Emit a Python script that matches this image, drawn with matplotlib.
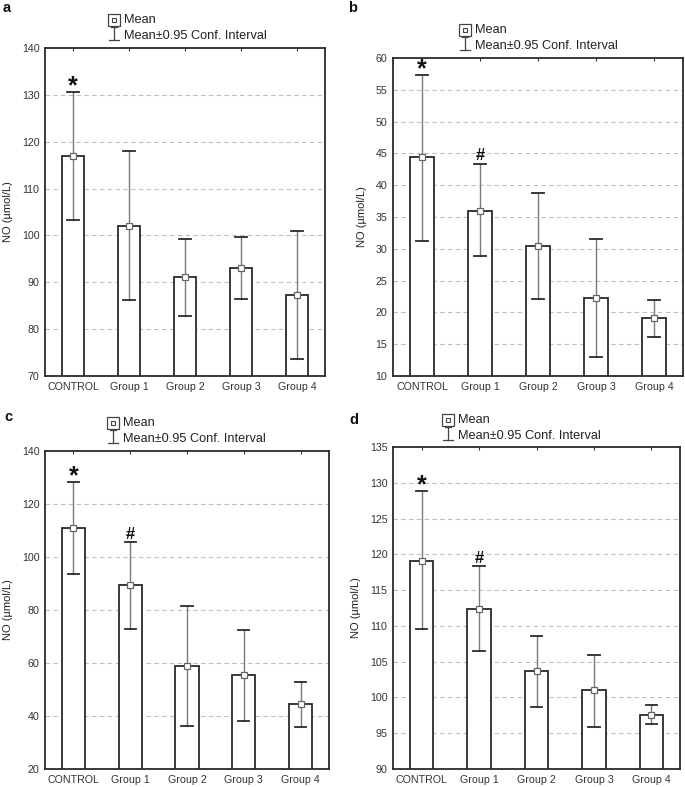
import matplotlib
matplotlib.use("Agg")
import matplotlib.pyplot as plt
from matplotlib.lines import Line2D

plt.rcParams['font.family'] = ['Liberation Sans', 'DejaVu Sans']

categories = ["CONTROL", "Group 1", "Group 2", "Group 3", "Group 4"]

mean_a = [117.0, 102.1, 91.1, 93.1, 87.2]
low_a = [103.3, 86.2, 82.8, 86.5, 73.6]
high_a = [130.7, 118.0, 99.2, 99.7, 100.9]

mean_b = [44.4, 36.0, 30.4, 22.3, 19.1]
low_b = [31.3, 28.8, 22.1, 13.0, 16.2]
high_b = [57.3, 43.4, 38.7, 31.5, 22.0]

mean_c = [110.8, 89.3, 58.9, 55.3, 44.5]
low_c = [93.5, 72.9, 36.2, 38.3, 35.8]
high_c = [128.3, 105.6, 81.4, 72.4, 52.7]

mean_d = [119.1, 112.3, 103.7, 101.0, 97.6]
low_d = [109.5, 106.5, 98.7, 95.9, 96.3]
high_d = [128.9, 118.3, 108.6, 105.9, 98.9]

marks_a = ["*", "", "", "", ""]
marks_b = ["*", "#", "", "", ""]
marks_c = ["*", "#", "", "", ""]
marks_d = ["*", "#", "", "", ""]

ylims = {"a": (70, 140, 10), "b": (10, 60, 5), "c": (20, 140, 20), "d": (90, 135, 5)}

W, H = 685, 787
fig = plt.figure(figsize=(W / 100, H / 100), dpi=100)

# axes pixel boxes: left, top, right, bottom
boxes = {
    "a": (45, 48, 325, 376),
    "b": (393, 58, 683, 376),
    "c": (45, 451, 329, 769),
    "d": (393, 447, 680, 769),
}
legend_x = {"a": 124, "b": 475, "c": 123, "d": 458}
panel_lbl = {"a": (3, 8), "b": (348, 8), "c": (4, 417), "d": (349, 420)}
data = {
    "a": (mean_a, low_a, high_a, marks_a),
    "b": (mean_b, low_b, high_b, marks_b),
    "c": (mean_c, low_c, high_c, marks_c),
    "d": (mean_d, low_d, high_d, marks_d),
}
dark = "#2a2a2a"

for key, (l, t, r, b) in boxes.items():
    ax = fig.add_axes([l / W, 1 - b / H, (r - l) / W, (b - t) / H])
    means, lows, highs, marks = data[key]
    y0, y1, step = ylims[key]
    x = list(range(len(categories)))
    heights = [m - y0 for m in means]
    ax.bar(x, heights, bottom=y0, width=0.41, color="white", edgecolor=dark,
           linewidth=1.3, zorder=3)
    for xi, m, lo, hi, mk in zip(x, means, lows, highs, marks):
        ax.plot([xi, xi], [lo, hi], color="#7a7a7a", lw=1.0, zorder=4)
        ax.plot([xi - 0.1, xi + 0.1], [lo, lo], color=dark, lw=1.3, zorder=4)
        ax.plot([xi - 0.1, xi + 0.1], [hi, hi], color=dark, lw=1.3, zorder=4)
        ax.plot([xi], [m], marker="s", ms=4.5, mfc="white", mec="#666666", mew=0.9, zorder=5)
        if mk == "*":
            ax.annotate(mk, (xi, hi), xytext=(0, -4.5), textcoords="offset points",
                        ha="center", va="bottom", fontsize=18,
                        fontweight="bold", color="#111111")
        elif mk:
            ax.annotate(mk, (xi, hi), xytext=(0, 0.3), textcoords="offset points",
                        ha="center", va="bottom", fontsize=12,
                        fontweight="bold", color="#111111")
    ax.set_xlim(-0.5, len(categories) - 0.5)
    ax.set_ylim(y0, y1)
    ax.set_yticks(range(y0, y1 + 1, step))
    ax.set_xticks(x)
    ax.set_xticklabels(categories)
    ax.tick_params(axis="both", labelsize=7.7, direction="in", length=2.5, width=0.8,
                   colors="#333333", top=True, pad=4)
    ax.tick_params(axis="y", length=0)
    for yv in range(y0 + step, y1, step):
        ax.axhline(yv, color="#c0c0c0", lw=0.8, ls=(0, (4, 3)), zorder=1)
    for s in ax.spines.values():
        s.set_linewidth(1.3)
        s.set_color(dark)
    ax.set_ylabel("NO (µmol/L)", fontsize=8, labelpad=6, color="#222222")

    # legend
    lx = legend_x[key]
    ym = t - 28 if key != "d" else t - 27
    yc = ym + 16
    mx = lx - 10
    fig.text(lx / W, 1 - ym / H, "Mean", fontsize=9.2, va="center", ha="left", color="#222222")
    fig.text(lx / W, 1 - yc / H, "Mean±0.95 Conf. Interval", fontsize=9.2,
             va="center", ha="left", color="#222222")
    fig.add_artist(Line2D([mx / W], [1 - ym / H], marker="s", ms=9,
                          mfc="white", mec="#444444", mew=0.9, transform=fig.transFigure))
    fig.add_artist(Line2D([mx / W], [1 - ym / H], marker="s", ms=3.5,
                          mfc="white", mec="#444444", mew=0.8, transform=fig.transFigure))
    fig.add_artist(Line2D([mx / W] * 2, [1 - (ym + 7) / H, 1 - (ym + 20) / H],
                          color="#444444", lw=0.9, transform=fig.transFigure))
    fig.add_artist(Line2D([(mx - 3) / W, (mx + 3) / W], [1 - (ym + 7) / H] * 2,
                          color="#444444", lw=0.9, transform=fig.transFigure))
    fig.add_artist(Line2D([(mx - 5) / W, (mx + 5) / W], [1 - (ym + 20) / H] * 2,
                          color="#444444", lw=0.9, transform=fig.transFigure))

    px, py = panel_lbl[key]
    fig.text(px / W, 1 - py / H, key, fontsize=10.5, fontweight="bold", va="center",
             ha="left", color="#111111")

fig.savefig("out.png", dpi=100)
